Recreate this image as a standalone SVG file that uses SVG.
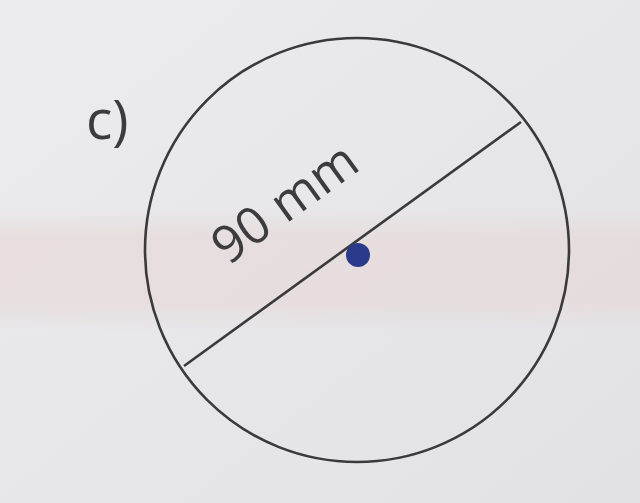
<svg xmlns="http://www.w3.org/2000/svg" width="640" height="503" viewBox="0 0 640 503">
<defs>
<linearGradient id="bg" x1="0" y1="0" x2="1" y2="1">
<stop offset="0" stop-color="#ececee"/>
<stop offset="1" stop-color="#e2e2e5"/>
</linearGradient>
<linearGradient id="band" x1="0" y1="0" x2="0" y2="1">
<stop offset="0" stop-color="#e6dcdc" stop-opacity="0"/>
<stop offset="0.25" stop-color="#e6d9d9" stop-opacity="0.7"/>
<stop offset="0.75" stop-color="#e6d9d9" stop-opacity="0.7"/>
<stop offset="1" stop-color="#e6dcdc" stop-opacity="0"/>
</linearGradient>
</defs>
<style>
.ink{stroke:#3a3a3c;stroke-width:2.6;fill:none}
.lbl{font-family:"Open Sans","Noto Sans",sans-serif;font-size:51px;fill:#3c3c3e}
</style>
<rect width="640" height="503" fill="url(#bg)"/>
<rect x="0" y="205" width="640" height="130" fill="url(#band)"/>
<g id="label-c">
<text class="lbl" x="86" y="139" style="font-size:55px">c)</text>
</g>
<g id="circle">
<circle class="ink" cx="357" cy="250" r="212"/>
</g>
<g id="connectors">
<line class="ink" x1="184" y1="366" x2="521" y2="122"/>
</g>
<g id="center">
<circle cx="358" cy="255" r="12" fill="#2c3a8c"/>
</g>
<g id="label-diameter">
<text class="lbl" x="228" y="266" transform="rotate(-36 228 266)">90 mm</text>
</g>
</svg>
